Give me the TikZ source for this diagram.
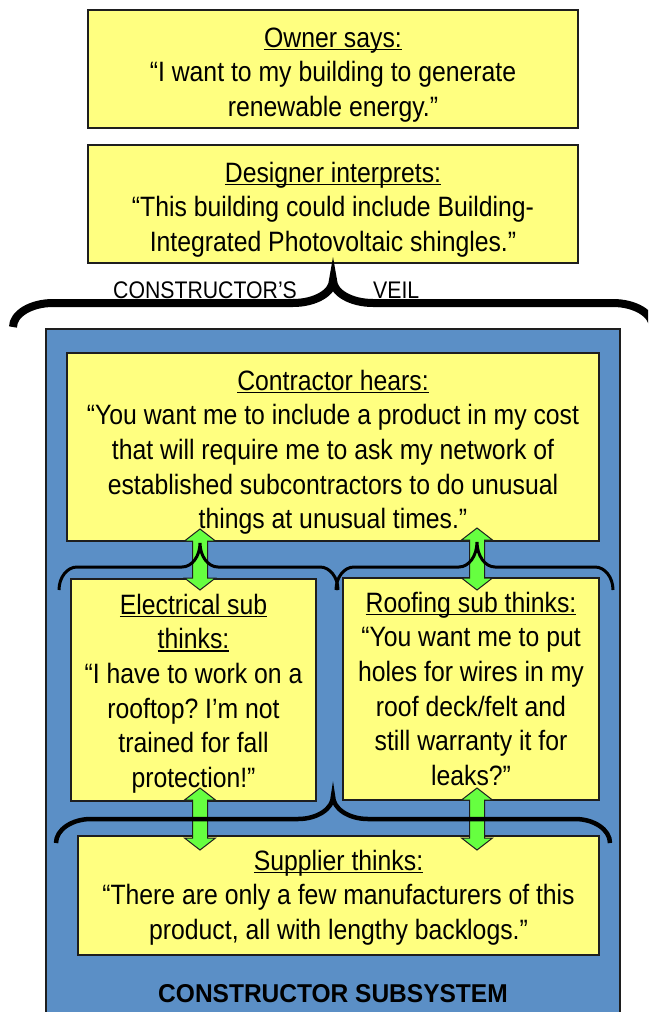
\documentclass[tikz,border=0pt]{standalone}
\usepackage{fontspec}
\setmainfont{Liberation Sans}[FakeStretch=0.885]
\newfontfamily\subsysfont{Liberation Sans}[FakeStretch=0.95]
\frenchspacing

\definecolor{panelblue}{HTML}{5B8FC6}
\definecolor{notepaper}{HTML}{FFFF80}
\definecolor{linkgreen}{HTML}{66FF40}
\definecolor{edge}{HTML}{1E1E1E}

% underlined heading: rule sits just under the baseline, across descenders
\newcommand\ulhead[1]{\setbox0\hbox{#1}\rlap{\rule[-3.2pt]{\wd0}{1.8pt}}\box0}

% horizontal curly brace opening downwards:
% #1 left x, #2 tip x, #3 right x, #4 end y, #5 arm y, #6 tip y, #7 curl radius
\newcommand\bracepath[7]{%
  (#1,#4) .. controls (#1,{#5+0.45*(#4-#5)}) and ({#1+0.45*#7},#5) .. ({#1+#7},#5)
  -- ({#2-#7},#5) .. controls ({#2-0.45*#7},#5) and (#2,{#5-0.45*(#5-#6)}) .. (#2,#6)
  .. controls (#2,{#5-0.45*(#5-#6)}) and ({#2+0.45*#7},#5) .. ({#2+#7},#5)
  -- ({#3-#7},#5) .. controls ({#3-0.45*#7},#5) and (#3,{#5+0.45*(#4-#5)}) .. (#3,#4)}

% fat two-headed arrow: #1 centre x, #2 top tip y, #3 bottom tip y
\newcommand\fatarrowpath[3]{%
  (#1,#2) -- ({#1+15.5},{#2+12}) -- ({#1+7.5},{#2+12}) -- ({#1+7.5},{#3-12})
  -- ({#1+15.5},{#3-12}) -- (#1,#3) -- ({#1-15.5},{#3-12}) -- ({#1-7.5},{#3-12})
  -- ({#1-7.5},{#2+12}) -- ({#1-15.5},{#2+12}) -- cycle}

\tikzset{
  note/.style={rectangle, draw=edge, line width=1.3pt, fill=notepaper, inner sep=0pt},
  panel/.style={rectangle, draw=edge, line width=1.3pt, fill=panelblue, inner sep=0pt},
  voice/.style={align=center, inner sep=0pt, anchor=north,
                font=\fontsize{28}{34.6}\selectfont},
  link/.style={fill=linkgreen, draw=edge, line width=1pt, line join=miter},
  veilbrace/.style={draw=black, line width=8pt, line cap=butt},
  subbrace/.style={draw=black, line width=3pt, line cap=butt},
  supbrace/.style={draw=black, line width=4.5pt, line cap=butt},
  veiltext/.style={inner sep=0pt, anchor=base west, font=\fontsize{24}{28}\selectfont},
}

\begin{document}
\begin{tikzpicture}[x=1pt, y=-1pt]
  \useasboundingbox (0,0) rectangle (648,1012);
  \clip (0,0) rectangle (648,1012);

  % contractor's subsystem panel
  \node[panel, minimum width=574pt, minimum height=685pt] (subsystem) at (333,671.5) {};

  % message boxes
  \node[note, minimum width=490pt, minimum height=118pt] (owner) at (333,69) {};
  \node[note, minimum width=490pt, minimum height=118pt] (designer) at (333,204) {};
  \node[note, minimum width=532pt, minimum height=188pt] (contractor) at (333,447) {};
  \node[note, minimum width=245pt, minimum height=222pt] (electrical) at (193.5,690) {};
  \node[note, minimum width=256pt, minimum height=222pt] (roofing) at (471,689) {};
  \node[note, minimum width=521pt, minimum height=119pt] (supplier) at (338.5,895.5) {};

  % two-way links between contractor, subs and supplier
  \draw[link] \fatarrowpath{200}{529}{590};
  \draw[link] \fatarrowpath{477}{528}{590};
  \draw[link] \fatarrowpath{200}{788}{850};
  \draw[link] \fatarrowpath{477}{788}{850};

  % braces
  \draw[veilbrace] \bracepath{13}{333}{653}{327}{303}{280}{40};
  \draw[subbrace] \bracepath{59}{200}{338}{590}{567}{543}{18};
  \draw[subbrace] \bracepath{336}{477}{613}{590}{567}{542}{18};
  \draw[supbrace] \bracepath{56}{333}{610}{843}{819}{796}{35};

  % veil labels
  \node[veiltext] (veilleft) at (113,298) {CONSTRUCTOR’S};
  \node[veiltext] (veilright) at (373,298) {VEIL};

  % texts
  \node[voice] (ownertext) at (333,22.8)
    {\strut\ulhead{Owner says:}\\
     “I want to my building to generate\\
     renewable energy.”};
  \node[voice] (designertext) at (333,157.8)
    {\strut\ulhead{Designer interprets:}\\
     “This building could include Building-\\
     Integrated Photovoltaic shingles.”};
  \node[voice] (contractortext) at (333,365.8)
    {\strut\ulhead{Contractor hears:}\\
     “You want me to include a product in my cost\\
     that will require me to ask my network of\\
     established subcontractors to do unusual\\
     things at unusual times.”};
  \node[voice] (electricaltext) at (193.5,589.8)
    {\strut\ulhead{Electrical sub}\\
     \ulhead{thinks:}\\
     “I have to work on a\\
     rooftop? I’m not\\
     trained for fall\\
     protection!”};
  \node[voice] (roofingtext) at (471,587.8)
    {\strut\ulhead{Roofing sub thinks:}\\
     “You want me to put\\
     holes for wires in my\\
     roof deck/felt and\\
     still warranty it for\\
     leaks?”};
  \node[voice] (suppliertext) at (338.5,845.8)
    {\strut\ulhead{Supplier thinks:}\\
     “There are only a few manufacturers of this\\
     product, all with lengthy backlogs.”};

  \node[inner sep=0pt, anchor=base, font=\subsysfont\bfseries\fontsize{25.8}{30}\selectfont]
    (subsystemtitle) at (333,1002) {CONSTRUCTOR SUBSYSTEM};
\end{tikzpicture}
\end{document}
